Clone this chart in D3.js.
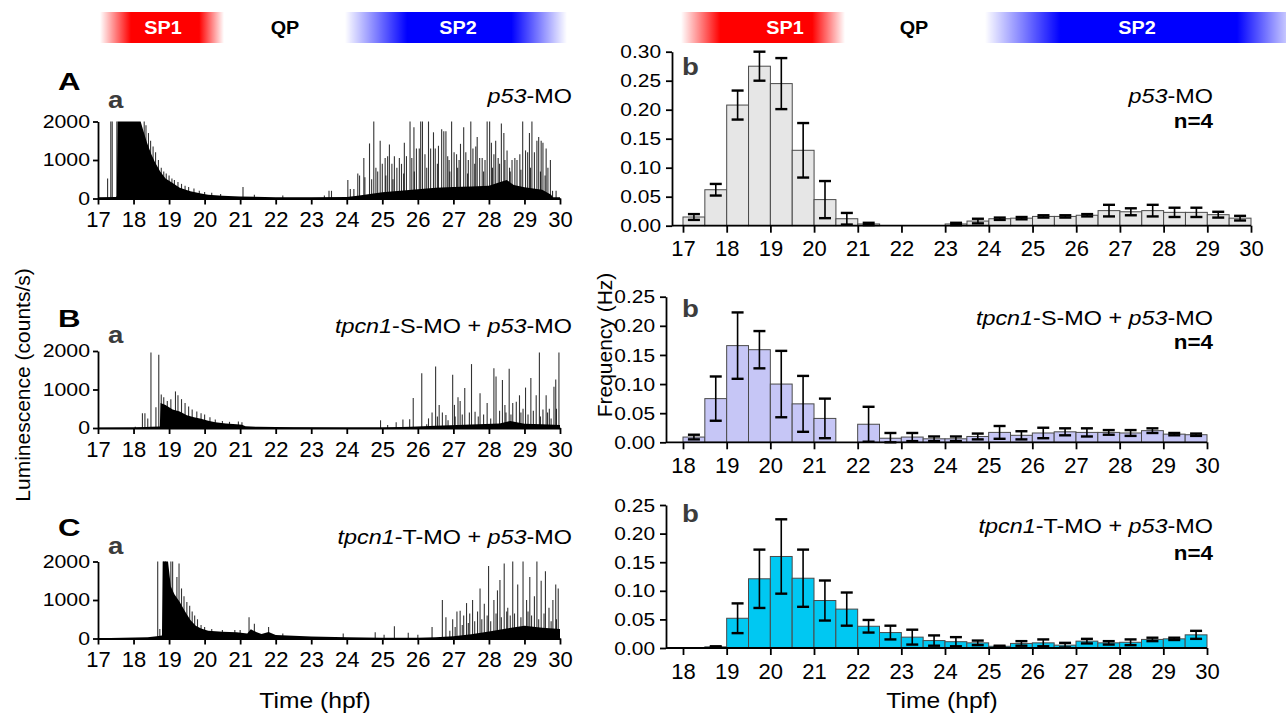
<!DOCTYPE html>
<html>
<head>
<meta charset="utf-8">
<script src="https://cdn.jsdelivr.net/npm/d3@7"></script>
<style>body{margin:0;background:#fff}</style>
</head>
<body>
<script>
// ---------- data ----------
var hoursLeft = [17, 18, 19, 20, 21, 22, 23, 24, 25, 26, 27, 28, 29, 30];
var hoursA = [17, 18, 19, 20, 21, 22, 23, 24, 25, 26, 27, 28, 29, 30];
var hoursBC = [18, 19, 20, 21, 22, 23, 24, 25, 26, 27, 28, 29, 30];
var lumTicks = [0, 1000, 2000];
var freqTicksA = [0, 0.05, 0.10, 0.15, 0.20, 0.25, 0.30];
var freqTicksBC = [0, 0.05, 0.10, 0.15, 0.20, 0.25];

// half-hour bins (start time) and mean frequency / sem
var binsA = [17, 17.5, 18, 18.5, 19, 19.5, 20, 20.5, 21, 21.5, 22, 22.5, 23, 23.5, 24, 24.5, 25, 25.5, 26, 26.5, 27, 27.5, 28, 28.5, 29, 29.5];
var freqA = [0.015, 0.062, 0.208, 0.275, 0.245, 0.130, 0.045, 0.012, 0.003, 0, 0, 0, 0.003, 0.008, 0.012, 0.013, 0.016, 0.016, 0.018, 0.026, 0.024, 0.026, 0.023, 0.023, 0.019, 0.013];
var errA = [0.005, 0.010, 0.025, 0.025, 0.044, 0.047, 0.032, 0.010, 0.002, 0, 0, 0, 0.002, 0.004, 0.002, 0.002, 0.002, 0.002, 0.002, 0.010, 0.006, 0.010, 0.008, 0.008, 0.005, 0.004];

var binsBC = [18, 18.5, 19, 19.5, 20, 20.5, 21, 21.5, 22, 22.5, 23, 23.5, 24, 24.5, 25, 25.5, 26, 26.5, 27, 27.5, 28, 28.5, 29, 29.5];
var freqB = [0.009, 0.075, 0.166, 0.159, 0.100, 0.066, 0.041, 0, 0.031, 0.007, 0.009, 0.006, 0.006, 0.010, 0.017, 0.012, 0.016, 0.018, 0.017, 0.017, 0.016, 0.020, 0.014, 0.013];
var errB = [0.004, 0.038, 0.057, 0.032, 0.057, 0.048, 0.034, 0, 0.030, 0.009, 0.007, 0.004, 0.004, 0.005, 0.011, 0.007, 0.009, 0.006, 0.007, 0.004, 0.005, 0.004, 0.002, 0.002];
var freqC = [0, 0.002, 0.052, 0.121, 0.160, 0.122, 0.083, 0.068, 0.038, 0.027, 0.019, 0.013, 0.011, 0.009, 0.003, 0.008, 0.009, 0.005, 0.012, 0.009, 0.010, 0.015, 0.016, 0.023];
var errC = [0, 0.001, 0.026, 0.051, 0.065, 0.050, 0.035, 0.029, 0.011, 0.012, 0.013, 0.009, 0.008, 0.004, 0.001, 0.004, 0.006, 0.004, 0.004, 0.003, 0.005, 0.003, 0.002, 0.007];

// luminescence traces: [time (hpf), counts/s]  -- dense envelope + single spikes
var fillA = [[17.0,30],[17.5,40],[17.53,60],[17.55,2000],[18.2,2000],[18.28,1750],[18.38,1450],[18.5,1150],[18.6,950],[18.75,700],[18.9,520],[19.1,400],[19.3,280],[19.6,190],[19.9,130],[20.1,100],[20.5,70],[21.0,50],[22.0,35],[23.0,30],[24.0,40],[24.3,70],[24.6,110],[25.0,160],[25.5,200],[26.0,240],[26.5,280],[27.0,300],[27.5,310],[28.0,330],[28.3,420],[28.5,480],[28.7,350],[29.0,290],[29.5,230],[29.75,100],[29.8,30],[30,30]];
var spikesA = [[17.27,520],[17.36,2000],[17.40,2000],[17.53,2000],
  [18.3,2000],[18.35,1900],[18.42,1700],[18.48,1500],[18.55,1350],[18.62,1200],[18.7,1000],[18.78,800],[18.85,700],[18.92,650],[19.0,600],[19.08,520],[19.15,480],[19.25,430],[19.35,380],[19.45,330],[19.55,300],[19.7,260],[19.85,200],[20.0,170],[20.2,150],[20.45,120],[21.08,300],[21.4,100],[22.2,80],[23.37,80],[23.5,200],[23.57,200],
  [24.03,480],[24.1,250],[24.2,250],[24.31,650],[24.36,600],[24.48,1050],[24.51,550],[24.64,1430],[24.76,2000],[24.82,800],[24.87,700],[24.94,1500],[25.0,900],[25.08,1050],[25.15,1100],[25.2,1400],[25.27,900],[25.34,1100],[25.41,800],[25.48,1050],[25.54,900],[25.62,1450],[25.68,1100],[25.78,2000],[25.83,1050],[25.89,1850],[25.96,1300],[26.04,1300],[26.08,2000],[26.13,2000],[26.2,1150],[26.3,2000],[26.36,1300],[26.44,1720],[26.49,1300],[26.58,1370],[26.67,1800],[26.73,1750],[26.79,1750],[26.84,1100],[26.88,1000],[26.95,2000],[27.02,1200],[27.09,1150],[27.16,1000],[27.2,1420],[27.29,1850],[27.35,1200],[27.42,1000],[27.49,2000],[27.55,1300],[27.63,1350],[27.67,1600],[27.74,1050],[27.81,1050],[27.89,1000],[27.95,2000],[28.02,2000],[28.07,1450],[28.14,1150],[28.19,1500],[28.26,1050],[28.35,1950],[28.42,1700],[28.51,1250],[28.58,800],[28.65,1000],[28.73,1050],[28.79,1000],[28.87,1150],[28.95,2000],[29.03,1250],[29.09,1200],[29.14,1700],[29.21,2000],[29.28,1200],[29.35,1500],[29.4,1600],[29.47,1500],[29.52,1450],[29.61,1300],[29.66,800],[29.73,1000],[29.79,200],[29.89,200],
  [24.7,500],[25.1,600],[25.3,500],[25.6,650],[25.9,700],[26.25,800],[26.55,900],[26.9,700],[27.12,800],[27.4,650],[27.6,900],[27.85,700],[28.1,800],[28.3,900],[28.45,1000],[28.6,700],[28.9,750],[29.17,800],[29.45,700],[29.58,600]];

var fillB = [[17,5],[18.0,15],[18.5,30],[18.74,40],[18.76,650],[18.9,600],[19.1,480],[19.3,430],[19.5,330],[19.7,280],[19.9,240],[20.1,190],[20.3,150],[20.6,120],[20.9,100],[21.05,85],[21.15,45],[21.5,30],[22.5,22],[24,15],[25,15],[25.8,30],[26.5,60],[27.5,90],[28.3,120],[28.6,180],[29,110],[29.5,100],[30,80]];
var spikesB = [[18.05,30],[18.25,380],[18.32,380],[18.4,250],[18.49,1960],[18.63,540],[18.71,1900],
  [18.78,870],[18.85,800],[18.95,700],[19.05,750],[19.18,950],[19.25,850],[19.35,750],[19.45,650],[19.55,560],[19.65,480],[19.78,430],[19.9,380],[20.0,350],[20.15,280],[20.3,220],[20.5,180],[20.7,160],[20.95,170],[21.05,150],
  [24.95,200],[25.15,80],[25.39,150],[25.58,220],[25.77,230],[25.87,780],[26.11,1420],[26.25,100],[26.3,250],[26.40,400],[26.50,1600],[26.55,300],[26.6,600],[26.69,400],[26.79,340],[26.85,200],[26.98,1380],[27.03,600],[27.05,300],[27.13,800],[27.19,700],[27.25,350],[27.32,1040],[27.45,400],[27.51,1660],[27.61,420],[27.7,300],[27.75,900],[27.85,350],[27.95,650],[28.05,250],[28.14,1550],[28.2,1340],[28.3,450],[28.38,1250],[28.45,600],[28.48,400],[28.57,1540],[28.62,350],[28.67,650],[28.77,680],[28.86,850],[28.9,400],[28.96,500],[29.03,1050],[29.1,350],[29.18,1300],[29.25,450],[29.33,850],[29.42,1960],[29.45,300],[29.52,480],[29.61,850],[29.65,400],[29.7,500],[29.75,250],[29.83,1070],[29.88,1260],[29.9,500],[29.97,1960]];

var fillC = [[17,5],[18.4,30],[18.65,60],[18.8,80],[18.82,2000],[18.97,2000],[19.05,1350],[19.15,1150],[19.3,950],[19.45,700],[19.6,480],[19.75,330],[19.9,260],[20.1,200],[20.5,175],[20.9,165],[21.2,130],[21.3,240],[21.45,170],[21.6,120],[21.8,170],[22.0,90],[22.5,70],[23,50],[24,30],[25,20],[26,20],[26.5,30],[27,60],[27.5,110],[28,180],[28.5,260],[29,330],[29.5,280],[30,250]];
var spikesC = [[18.68,2000],[18.74,250],[18.85,2000],[18.9,2000],[19.05,2000],[19.1,2000],[19.22,1600],[19.28,1950],[19.35,1300],[19.42,1100],[19.5,950],[19.58,850],[19.65,700],[19.72,600],[19.8,500],[19.9,350],[20.0,300],[20.2,250],[20.5,220],[20.85,220],[21.0,220],[21.25,550],[21.4,380],[21.8,300],[22.2,130],[23.9,130],[24.8,160],[25.05,100],[25.34,320],[25.73,150],[26.0,100],
  [26.40,300],[26.69,1000],[26.79,550],[26.9,200],[26.98,500],[27.05,300],[27.10,700],[27.19,720],[27.25,350],[27.29,600],[27.37,920],[27.42,400],[27.46,650],[27.54,1000],[27.6,450],[27.68,700],[27.75,1300],[27.8,500],[27.87,900],[27.95,600],[27.99,1880],[28.05,450],[28.14,1000],[28.2,650],[28.24,1250],[28.31,1520],[28.35,550],[28.43,1950],[28.5,700],[28.53,800],[28.6,600],[28.67,2000],[28.72,650],[28.81,1400],[28.9,550],[28.96,2000],[29.06,1000],[29.1,700],[29.15,1600],[29.2,600],[29.28,1100],[29.35,2000],[29.4,500],[29.47,1500],[29.55,650],[29.59,1750],[29.69,800],[29.75,450],[29.80,1000],[29.88,1400],[29.9,500],[29.95,1300]];

// ---------- layout ----------
var FONT = "'Liberation Sans', Arial, Helvetica, sans-serif";
var W = 1286, H = 714;

var svg = d3.select('body').append('svg')
  .attr('xmlns', 'http://www.w3.org/2000/svg')
  .attr('width', W).attr('height', H);
svg.append('rect').attr('width', W).attr('height', H).attr('fill', '#fff');
var defs = svg.append('defs');

function addText(parent, x, y, parts, o) {
  var g = parent.append('g')
    .attr('transform', 'translate(' + x + ',' + y + ')' + (o.rotate ? ' rotate(' + o.rotate + ')' : '') + ' scale(' + (o.sx || 1) + ',1)');
  var t = g.append('text')
    .attr('text-anchor', o.anchor || 'start')
    .attr('font-family', FONT)
    .attr('font-size', o.size)
    .attr('font-weight', o.weight || 'normal')
    .attr('fill', o.fill || '#000')
    .style('white-space', 'pre');
  if (typeof parts === 'string') parts = [[parts, 0]];
  parts.forEach(function (p) {
    t.append('tspan').attr('font-style', p[1] ? 'italic' : 'normal').text(p[0]);
  });
  return g;
}

function styleAxis(g, size, sx) {
  g.selectAll('path.domain').attr('stroke', '#000').attr('stroke-width', 1.8);
  g.selectAll('.tick line').attr('stroke', '#000').attr('stroke-width', 1.8);
  g.selectAll('.tick text').attr('font-family', FONT).attr('font-size', size).attr('fill', '#000');
  if (sx) {
    g.selectAll('.tick text').each(function () {
      var t = d3.select(this);
      t.attr('x', (+t.attr('x') || 0) / sx).attr('transform', 'scale(' + sx + ',1)');
    });
  }
}

// ---------- phase strips ----------
var strips = [
  {x0: 100, x1: 224, color: '#ff0000', label: 'SP1', lx: 163, fl: 0.25, fr: 0.2},
  {x0: 345, x1: 567, color: '#0000ff', label: 'SP2', lx: 458, fl: 0.28, fr: 0.25},
  {x0: 681, x1: 845, color: '#ff0000', label: 'SP1', lx: 785, fl: 0.24, fr: 0.2},
  {x0: 985, x1: 1300, color: '#0000ff', label: 'SP2', lx: 1137, fl: 0.24, fr: 0.2}
];
strips.forEach(function (s, i) {
  var grad = defs.append('linearGradient').attr('id', 'strip' + i)
    .attr('x1', '0%').attr('x2', '100%').attr('y1', '0%').attr('y2', '0%');
  [[0, 0], [s.fl, 1], [1 - s.fr, 1], [1, 0]].forEach(function (st) {
    grad.append('stop').attr('offset', st[0]).attr('stop-color', s.color).attr('stop-opacity', st[1]);
  });
  svg.append('rect').attr('x', s.x0).attr('y', 12).attr('width', s.x1 - s.x0).attr('height', 31)
    .attr('fill', 'url(#strip' + i + ')');
  addText(svg, s.lx, 34, s.label, {size: 18, weight: 'bold', anchor: 'middle', fill: '#fff', sx: 1.1});
});
addText(svg, 285, 34, 'QP', {size: 18, weight: 'bold', anchor: 'middle', sx: 1.1});
addText(svg, 914, 34, 'QP', {size: 18, weight: 'bold', anchor: 'middle', sx: 1.1});

// ---------- left: luminescence traces ----------
var leftPanels = [
  {y0: 198.5, yTop: 121.5, fill: fillA, spikes: spikesA, letter: 'A', letterY: 90, aY: 108, ann: [['p53', 1], ['-MO', 0]], annY: 103},
  {y0: 428, yTop: 351, fill: fillB, spikes: spikesB, letter: 'B', letterY: 327, aY: 343, ann: [['tpcn1', 1], ['-S-MO + ', 0], ['p53', 1], ['-MO', 0]], annY: 333},
  {y0: 638.5, yTop: 561.5, fill: fillC, spikes: spikesC, letter: 'C', letterY: 536, aY: 554, ann: [['tpcn1', 1], ['-T-MO + ', 0], ['p53', 1], ['-MO', 0]], annY: 544}
];

leftPanels.forEach(function (p) {
  var x = d3.scaleLinear().domain([17, 30]).range([98, 560]);
  var y = d3.scaleLinear().domain([0, 2000]).range([p.y0, p.yTop]);
  var g = svg.append('g');

  g.append('path').datum(p.fill)
    .attr('d', d3.area().x(function (d) { return x(d[0]); }).y0(y(0)).y1(function (d) { return y(d[1]); }))
    .attr('fill', '#000');

  g.selectAll('line.spike').data(p.spikes).enter().append('line')
    .attr('class', 'spike')
    .attr('x1', function (d) { return x(d[0]); })
    .attr('x2', function (d) { return x(d[0]); })
    .attr('y1', y(0))
    .attr('y2', function (d) { return y(d[1]); })
    .attr('stroke', '#000').attr('stroke-width', 1.1).attr('stroke-opacity', 0.8);

  var ax = g.append('g').attr('transform', 'translate(0,' + p.y0 + ')')
    .call(d3.axisBottom(x).tickValues(hoursLeft).tickFormat(d3.format('d')).tickSize(6).tickSizeOuter(0).tickPadding(7));
  styleAxis(ax, 22);
  var ay = g.append('g').attr('transform', 'translate(98,0)')
    .call(d3.axisLeft(y).tickValues(lumTicks).tickFormat(d3.format('d')).tickSize(5).tickSizeOuter(0).tickPadding(3));
  styleAxis(ay, 18.5, 1.15);

  addText(svg, 58, p.letterY, p.letter, {size: 24, weight: 'bold', sx: 1.3});
  addText(svg, 108, p.aY, 'a', {size: 24, weight: 'bold', fill: '#3c3c3c', sx: 1.15});
  addText(svg, 572, p.annY, p.ann, {size: 19.5, anchor: 'end', sx: 1.2});
});

// ---------- right: frequency histograms ----------
var rightPanels = [
  {bins: binsA, freq: freqA, err: errA, hours: hoursA, xd: [17, 30], xr: [683, 1251], axisX: 672, y0: 225.7, yTop: 51.7, yMax: 0.30, yTicks: freqTicksA, color: '#e6e6e6', bY: 75, ann: [['p53', 1], ['-MO', 0]], annY: 103, nY: 128},
  {bins: binsBC, freq: freqB, err: errB, hours: hoursBC, xd: [18, 30], xr: [683, 1207], axisX: 666, y0: 442.3, yTop: 296.7, yMax: 0.25, yTicks: freqTicksBC, color: '#c6c6f6', bY: 317, ann: [['tpcn1', 1], ['-S-MO + ', 0], ['p53', 1], ['-MO', 0]], annY: 325, nY: 349},
  {bins: binsBC, freq: freqC, err: errC, hours: hoursBC, xd: [18, 30], xr: [683, 1207], axisX: 666, y0: 648, yTop: 505, yMax: 0.25, yTicks: freqTicksBC, color: '#00c8f2', bY: 522, ann: [['tpcn1', 1], ['-T-MO + ', 0], ['p53', 1], ['-MO', 0]], annY: 533, nY: 560}
];

rightPanels.forEach(function (p) {
  var x = d3.scaleLinear().domain(p.xd).range(p.xr);
  var y = d3.scaleLinear().domain([0, p.yMax]).range([p.y0, p.yTop]);
  var g = svg.append('g');
  var rows = p.bins.map(function (b, i) { return {t: b, v: p.freq[i], e: p.err[i]}; })
    .filter(function (d) { return d.v > 0; });

  g.selectAll('rect.bar').data(rows).enter().append('rect')
    .attr('class', 'bar')
    .attr('x', function (d) { return x(d.t); })
    .attr('width', function (d) { return x(d.t + 0.5) - x(d.t); })
    .attr('y', function (d) { return y(d.v); })
    .attr('height', function (d) { return y(0) - y(d.v); })
    .attr('fill', p.color).attr('stroke', '#4a4a4a').attr('stroke-width', 1);

  var eb = g.selectAll('g.err').data(rows).enter().append('g').attr('class', 'err')
    .attr('transform', function (d) { return 'translate(' + x(d.t + 0.25) + ',0)'; });
  eb.append('line')
    .attr('y1', function (d) { return y(Math.max(0, d.v - d.e)); })
    .attr('y2', function (d) { return y(d.v + d.e); })
    .attr('stroke', '#000').attr('stroke-width', 1.6);
  eb.append('line').attr('x1', -6).attr('x2', 6)
    .attr('y1', function (d) { return y(d.v + d.e); }).attr('y2', function (d) { return y(d.v + d.e); })
    .attr('stroke', '#000').attr('stroke-width', 2.4);
  eb.append('line').attr('x1', -6).attr('x2', 6)
    .attr('y1', function (d) { return y(Math.max(0, d.v - d.e)); }).attr('y2', function (d) { return y(Math.max(0, d.v - d.e)); })
    .attr('stroke', '#000').attr('stroke-width', 2.4);

  var ax = g.append('g').attr('transform', 'translate(0,' + p.y0 + ')')
    .call(d3.axisBottom(x).tickValues(p.hours).tickFormat(d3.format('d')).tickSize(7).tickSizeOuter(0).tickPadding(8));
  ax.select('path.domain').remove();
  styleAxis(ax, 22);
  g.append('line').attr('x1', p.axisX).attr('x2', x(30)).attr('y1', p.y0).attr('y2', p.y0)
    .attr('stroke', '#000').attr('stroke-width', 1.8);

  var ay = g.append('g').attr('transform', 'translate(' + p.axisX + ',0)')
    .call(d3.axisLeft(y).tickValues(p.yTicks).tickFormat(d3.format('.2f')).tickSize(6).tickSizeOuter(0).tickPadding(5));
  styleAxis(ay, 19, 1.1);

  addText(svg, 682, p.bY, 'b', {size: 24, weight: 'bold', fill: '#3c3c3c', sx: 1.15});
  addText(svg, 1213, p.annY, p.ann, {size: 19.5, anchor: 'end', sx: 1.2});
  addText(svg, 1213, p.nY, 'n=4', {size: 19.5, weight: 'bold', anchor: 'end', sx: 1.15});
});

// ---------- axis titles ----------
addText(svg, 30, 385, 'Luminescence (counts/s)', {size: 21, anchor: 'middle', rotate: -90});
addText(svg, 612, 345, 'Frequency (Hz)', {size: 21, anchor: 'middle', rotate: -90});
addText(svg, 315, 708, 'Time (hpf)', {size: 22, anchor: 'middle', sx: 1.12});
addText(svg, 942, 708, 'Time (hpf)', {size: 22, anchor: 'middle', sx: 1.12});
</script>
</body>
</html>
